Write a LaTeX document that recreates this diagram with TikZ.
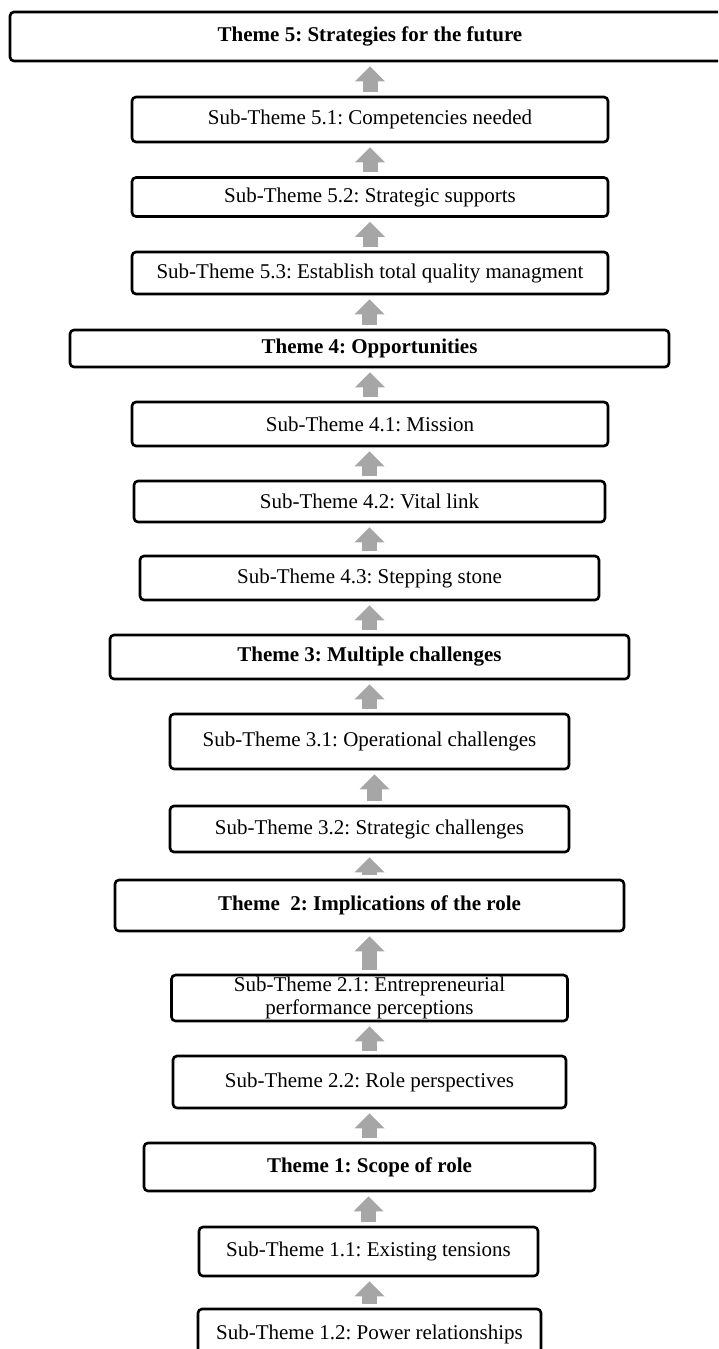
\documentclass[tikz,border=0pt]{standalone}
\usepackage{fontspec}
\setmainfont{Liberation Serif}
\usetikzlibrary{arrows.meta}
\definecolor{arrowgray}{HTML}{A6A6A6}
\frenchspacing

\begin{document}
\begin{tikzpicture}[
    x=1pt, y=-1pt,
    every node/.style={font=\fontsize{21}{23}\selectfont},
    subbox/.style={
        draw, line width=2.6pt,
        rounded corners=4pt,
        inner sep=0pt, align=center
    },
    themebox/.style={
        subbox,
        font=\fontsize{21}{23}\selectfont\bfseries
    },
    uparrow/.style={
        draw=arrowgray, line width=15pt,
        -{Triangle[width=30pt, length=15pt, line width=0pt]}
    }
]

\useasboundingbox (0,0) rectangle (718,1349);
\clip (0,0) rectangle (718,1349);

% =========================================================
% Theme 5
% =========================================================
\node[themebox, minimum width=720pt, minimum height=49pt] (t5) at (370, 36.5)
    {Theme 5: Strategies for the future};
\node[subbox, minimum width=476pt, minimum height=45pt] (s51) at (370, 119.5)
    {Sub-Theme 5.1: Competencies needed};
\node[subbox, minimum width=476pt, minimum height=39pt] (s52) at (370, 197)
    {Sub-Theme 5.2: Strategic supports};
\node[subbox, minimum width=476pt, minimum height=42pt] (s53) at (370, 273)
    {Sub-Theme 5.3: Establish total quality managment};

% =========================================================
% Theme 4
% =========================================================
\node[themebox, minimum width=599pt, minimum height=37pt] (t4) at (369.5, 348.5)
    {Theme 4: Opportunities};
\node[subbox, minimum width=476pt, minimum height=44pt] (s41) at (370, 424)
    {Sub-Theme 4.1: Mission};
\node[subbox, minimum width=471pt, minimum height=41pt] (s42) at (369.5, 501.5)
    {Sub-Theme 4.2: Vital link};
\node[subbox, minimum width=459pt, minimum height=44pt] (s43) at (369.5, 578)
    {Sub-Theme 4.3: Stepping stone};

% =========================================================
% Theme 3
% =========================================================
\node[themebox, minimum width=519pt, minimum height=44pt] (t3) at (369.5, 657)
    {Theme 3: Multiple challenges};
\node[subbox, minimum width=399pt, minimum height=55pt] (s31) at (369.5, 741.5)
    {Sub-Theme 3.1: Operational challenges};
\node[subbox, minimum width=399pt, minimum height=46pt] (s32) at (369.5, 829)
    {Sub-Theme 3.2: Strategic challenges};

% =========================================================
% Theme 2
% =========================================================
\node[themebox, minimum width=509pt, minimum height=51pt] (t2) at (369.5, 905.5)
    {Theme~~2: Implications of the role};
\node[subbox, minimum width=396pt, minimum height=46pt] (s21) at (369.5, 998)
    {Sub-Theme 2.1: Entrepreneurial\\performance perceptions};
\node[subbox, minimum width=393pt, minimum height=52pt] (s22) at (369.5, 1082)
    {Sub-Theme 2.2: Role perspectives};

% =========================================================
% Theme 1
% =========================================================
\node[themebox, minimum width=451pt, minimum height=48pt] (t1) at (369.5, 1167)
    {Theme 1: Scope of role};
\node[subbox, minimum width=339pt, minimum height=49pt] (s11) at (368.5, 1251.5)
    {Sub-Theme 1.1: Existing tensions};
\node[subbox, minimum width=343pt, minimum height=50pt] (s12) at (369.5, 1334)
    {Sub-Theme 1.2: Power relationships};

% Pfeile nach oben
\foreach \lo/\hi in {s51/t5, s52/s51, s53/s52, t4/s53,
                     s41/t4, s42/s41, s43/s42, t3/s43,
                     s31/t3, t2/s32,
                     s21/t2, s22/s21, t1/s22,
                     s11/t1, s12/s11} {
    \draw[uparrow] ([yshift=4pt]\lo.north) -- ([yshift=-4pt]\hi.south -| \lo.north);
}
% slightly off-centre
\draw[uparrow] ([xshift=5pt, yshift=4pt]s32.north) -- ([xshift=5pt, yshift=-4pt]s31.south);

\end{tikzpicture}
\end{document}
